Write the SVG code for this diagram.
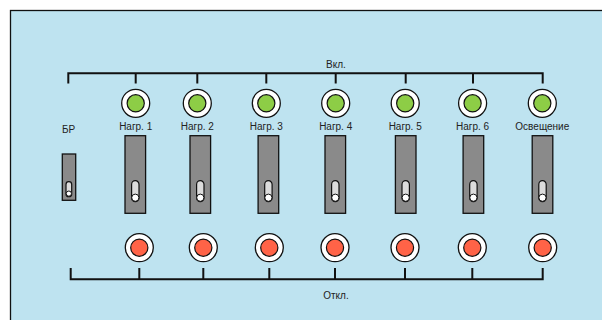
<svg xmlns="http://www.w3.org/2000/svg" width="602" height="320" viewBox="0 0 602 320">
  <style>
    .panel { fill: #bee3f0; stroke: #111; stroke-width: 1.3; }
    .bus { fill: none; stroke: #111; stroke-width: 2; stroke-linejoin: miter; }
    .ring { fill: #fff; stroke: #111; stroke-width: 1.3; }
    .on { fill: #8dcd46; stroke: #111; stroke-width: 1.2; }
    .off { fill: #ff6347; stroke: #111; stroke-width: 1.2; }
    .body { fill: #8a8a8a; stroke: #111; stroke-width: 1.3; }
    .slot { fill: #dcdcdc; stroke: #111; stroke-width: 1.2; }
    .pin { fill: #fff; stroke: #111; stroke-width: 1; }
    text { font-family: "Liberation Sans", Arial, sans-serif; font-size: 10px; fill: #222; text-anchor: middle; }
  </style>
  <defs>
    <g id="lampOn"><circle class="ring" r="14"/><circle class="on" r="8.6"/></g>
    <g id="lampOff"><circle class="ring" r="14"/><circle class="off" r="8.6"/></g>
    <g id="toggle">
      <rect class="body" x="-10.3" y="0" width="20.6" height="77.6"/>
      <rect class="slot" x="-3.7" y="45" width="7.4" height="21" rx="3.7"/>
      <circle class="pin" cx="0" cy="62" r="3.6"/>
    </g>
  </defs>

  <rect class="panel" x="10.5" y="10.5" width="600" height="320"/>

  <g id="connectors">
    <path class="bus" d="M68.3,83.5 V73.3 H542.7 V83.5 M135.7,73.3 V83.5 M197.3,73.3 V83.5 M266.3,73.3 V83.5 M335.7,73.3 V83.5 M405.7,73.3 V83.5 M473,73.3 V83.5"/>
    <path class="bus" d="M70.7,268 V279.3 H542.7 V268 M139.3,279.3 V268 M203.3,279.3 V268 M269.3,279.3 V268 M335,279.3 V268 M405,279.3 V268 M472.3,279.3 V268"/>
  </g>
  <text id="label-on" x="336" y="67.5">Вкл.</text>
  <text id="label-off" x="336" y="298.5">Откл.</text>

  <g id="br">
    <text x="68.5" y="133">БР</text>
    <rect class="body" x="62.3" y="154" width="13.4" height="46.3"/>
    <rect class="slot" x="66" y="181.7" width="5.7" height="15" rx="2.8"/>
    <circle class="pin" cx="68.85" cy="193.6" r="2.6"/>
  </g>

  <g id="load1">
    <use href="#lampOn" x="135.7" y="103.3"/>
    <text x="135.7" y="130">Нагр. 1</text>
    <use href="#toggle" x="135.3" y="135.7"/>
    <use href="#lampOff" x="139.3" y="247.7"/>
  </g>
  <g id="load2">
    <use href="#lampOn" x="197.3" y="103.3"/>
    <text x="197.3" y="130">Нагр. 2</text>
    <use href="#toggle" x="200.3" y="135.7"/>
    <use href="#lampOff" x="203.3" y="247.7"/>
  </g>
  <g id="load3">
    <use href="#lampOn" x="266.3" y="103.3"/>
    <text x="266.3" y="130">Нагр. 3</text>
    <use href="#toggle" x="268.4" y="135.7"/>
    <use href="#lampOff" x="269.3" y="247.7"/>
  </g>
  <g id="load4">
    <use href="#lampOn" x="335.7" y="103.3"/>
    <text x="335.7" y="130">Нагр. 4</text>
    <use href="#toggle" x="335.3" y="135.7"/>
    <use href="#lampOff" x="335" y="247.7"/>
  </g>
  <g id="load5">
    <use href="#lampOn" x="405.2" y="103.3"/>
    <text x="405.2" y="130">Нагр. 5</text>
    <use href="#toggle" x="405.7" y="135.7"/>
    <use href="#lampOff" x="405" y="247.7"/>
  </g>
  <g id="load6">
    <use href="#lampOn" x="472.6" y="103.3"/>
    <text x="472.6" y="130">Нагр. 6</text>
    <use href="#toggle" x="473.4" y="135.7"/>
    <use href="#lampOff" x="472.3" y="247.7"/>
  </g>
  <g id="lighting">
    <use href="#lampOn" x="542.3" y="103.3"/>
    <text x="542.3" y="130">Освещение</text>
    <use href="#toggle" x="542.5" y="135.7"/>
    <use href="#lampOff" x="542.7" y="247.7"/>
  </g>
</svg>
